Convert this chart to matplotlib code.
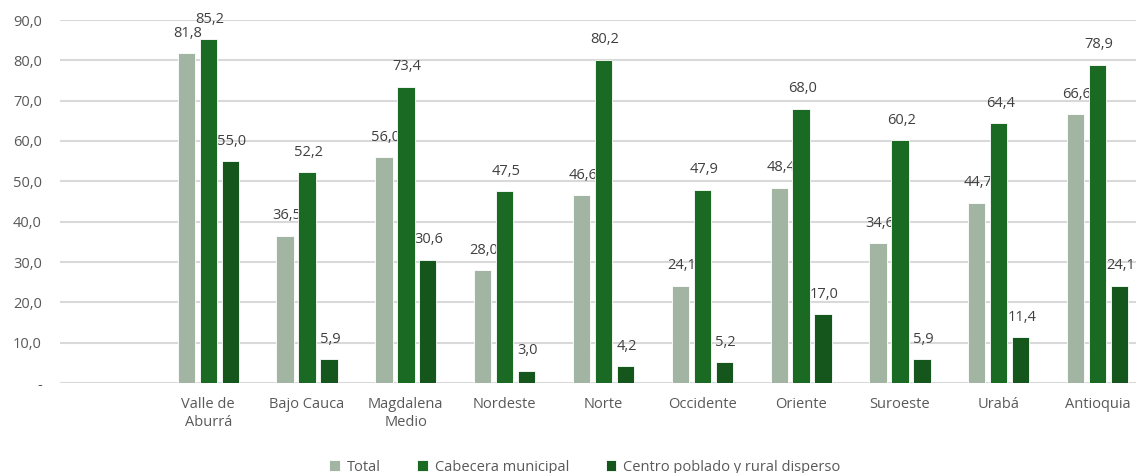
import numpy as np
import matplotlib.pyplot as plt

plt.rcParams['font.family'] = ['Open Sans', 'DejaVu Sans']

categorias = ['', 'Valle de\nAburrá', 'Bajo Cauca', 'Magdalena\nMedio', 'Nordeste', 'Norte',
              'Occidente', 'Oriente', 'Suroeste', 'Urabá', 'Antioquia']
total = [np.nan, 81.8, 36.5, 56.0, 28.0, 46.6, 24.1, 48.4, 34.6, 44.7, 66.6]
cabecera = [np.nan, 85.2, 52.2, 73.4, 47.5, 80.2, 47.9, 68.0, 60.2, 64.4, 78.9]
centro = [np.nan, 55.0, 5.9, 30.6, 3.0, 4.2, 5.2, 17.0, 5.9, 11.4, 24.1]

series = [('Total', total, '#a2b4a2'),
          ('Cabecera municipal', cabecera, '#1b6a24'),
          ('Centro poblado y rural disperso', centro, '#14561c')]

fig = plt.figure(figsize=(11.36, 4.73), dpi=100)
ax = fig.add_axes([60/1136, 90/473, 1087/1136, 363/473])

x = np.arange(len(categorias))
ancho = 0.175
paso = 0.222
gris = '#595959'

for i, (nombre, valores, color) in enumerate(series):
    pos = x + (i - 1) * paso
    ax.bar(pos, valores, ancho, color=color, edgecolor='white', linewidth=0.6,
           label=nombre, zorder=3)
    for p, v in zip(pos, valores):
        if np.isnan(v):
            continue
        ax.annotate(f'{v:.1f}'.replace('.', ','), (p, v), xytext=(1, 9),
                    textcoords='offset points', ha='center', va='bottom',
                    fontsize=10.5, color='#404040', zorder=2)

ax.set_xlim(-0.5, len(categorias) - 0.5)
ax.set_ylim(0, 90)
ax.set_yticks(np.arange(0, 91, 10))
ax.set_yticklabels(['-'] + [f'{t:.1f}'.replace('.', ',') for t in np.arange(10, 91, 10)])
ax.set_xticks(x)
ax.set_xticklabels(categorias, linespacing=1.3)
ax.tick_params(axis='both', length=0, labelsize=10.5, labelcolor=gris)
ax.tick_params(axis='y', pad=13)
ax.tick_params(axis='x', pad=10)
ax.grid(axis='y', color='#d9d9d9', linewidth=1.5, zorder=0)
ax.set_axisbelow(True)
for s in ax.spines.values():
    s.set_visible(False)

leg = fig.legend(loc='center', bbox_to_anchor=(585/1136, 1 - 467/473), ncol=3,
                 frameon=False, fontsize=10.5, handlelength=0.7, handleheight=0.7,
                 columnspacing=2.5, handletextpad=0.5)
for t in leg.get_texts():
    t.set_color(gris)

fig.savefig('out.png', dpi=100)
